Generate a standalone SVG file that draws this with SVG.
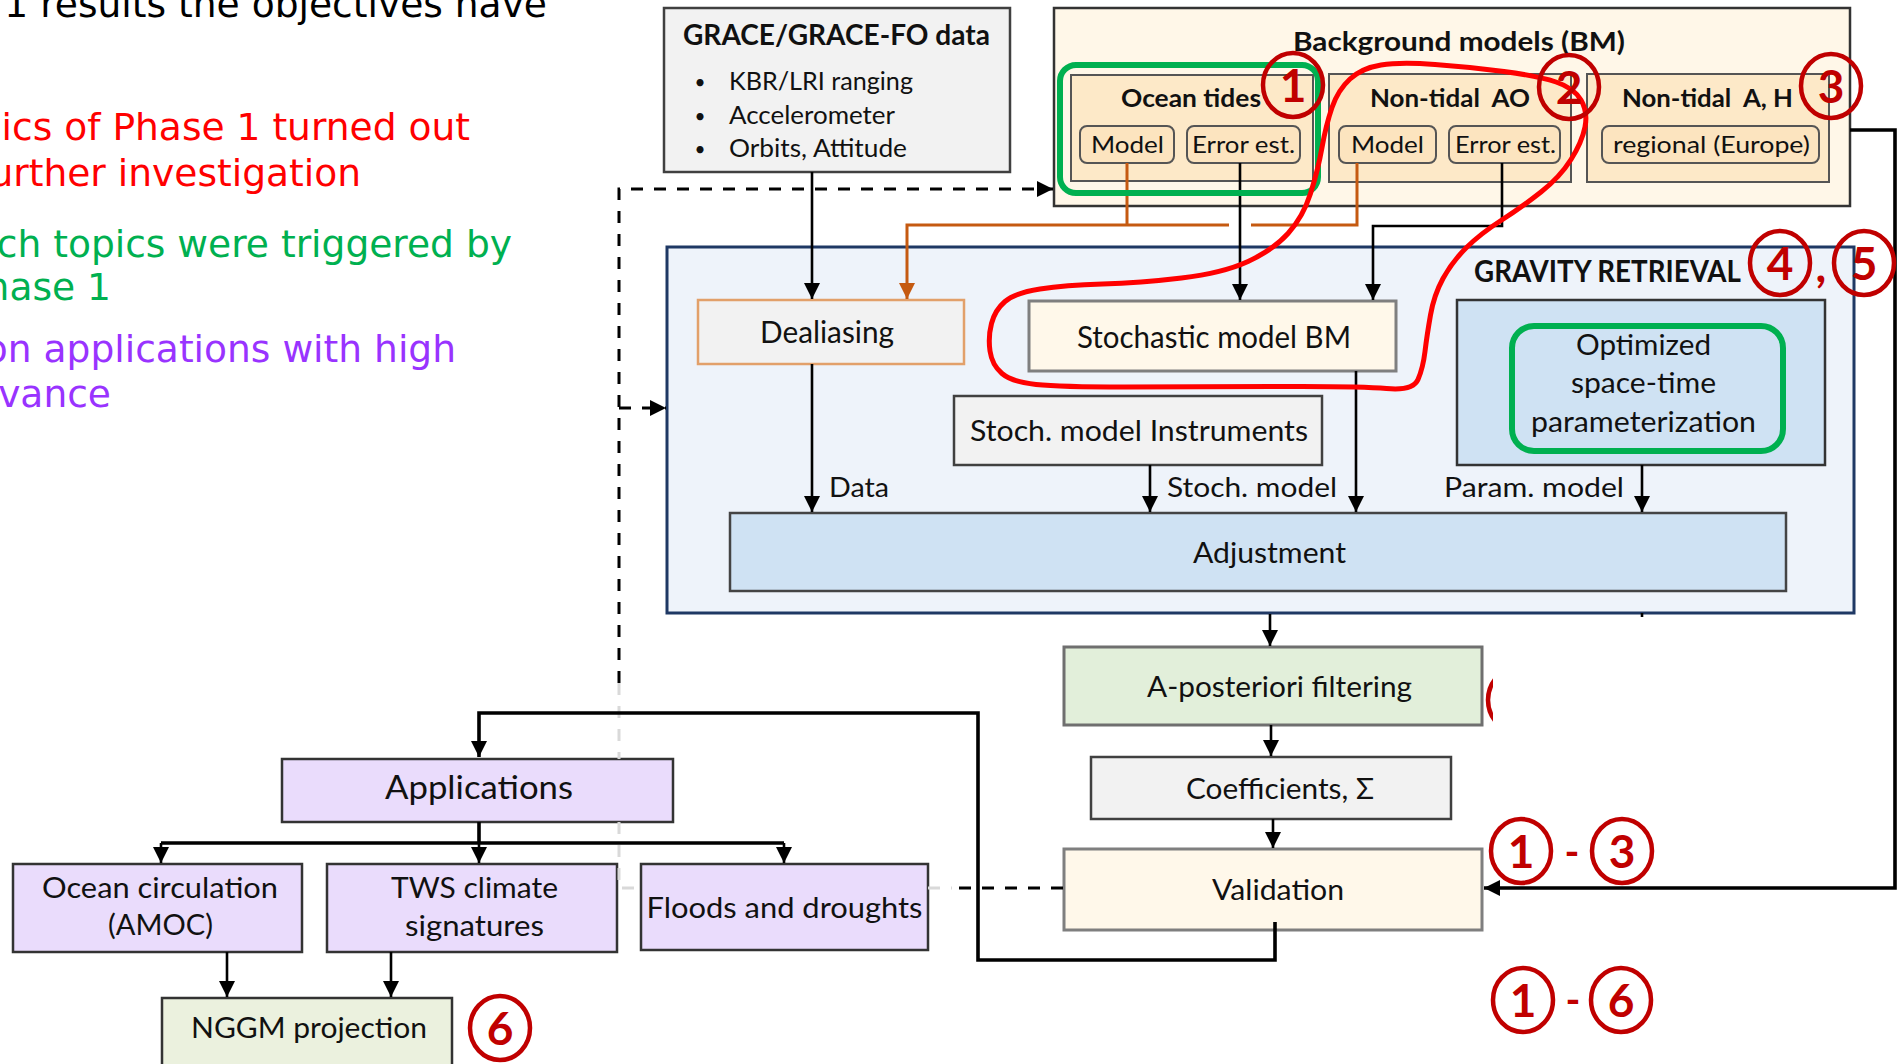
<svg xmlns="http://www.w3.org/2000/svg" width="1901" height="1064" viewBox="0 0 1901 1064">
  <defs>
    <style>
      .note { font-family: "DejaVu Sans", Verdana, sans-serif; font-size: 37.6px; text-anchor: end; }
      .lbl { font-family: Lato, "Liberation Sans", sans-serif; fill: #111; font-size: 28.5px; }
      .mid { text-anchor: middle; }
      .b { font-weight: bold; }
      .bx { stroke-width: 2.5; }
      .line { fill: none; stroke: #000; stroke-width: 2.6; }
      .thick { stroke-width: 3.6; }
      .dash { fill: none; stroke: #000; stroke-width: 3; stroke-dasharray: 12 11; }
      .faded { fill: none; stroke: #d9d9d9; stroke-width: 3; stroke-dasharray: 12 11; }
      .orange { fill: none; stroke: #c55a11; stroke-width: 3; }
      .ring { fill: none; stroke: #c00000; stroke-width: 4.5; }
      .num { font-family: Lato, "Liberation Sans", sans-serif; font-size: 46px; fill: #c00000; text-anchor: middle; font-weight: bold; }
      .hl { fill: none; stroke: #00b050; stroke-width: 6; }
    </style>
    <marker id="ah" viewBox="0 0 10 10" refX="10" refY="5" markerWidth="16" markerHeight="16" markerUnits="userSpaceOnUse" orient="auto">
      <path d="M0,0 L10,5 L0,10 z" fill="#000"/>
    </marker>
    <marker id="ahO" viewBox="0 0 10 10" refX="10" refY="5" markerWidth="16" markerHeight="16" markerUnits="userSpaceOnUse" orient="auto">
      <path d="M0,0 L10,5 L0,10 z" fill="#c55a11"/>
    </marker>
    <clipPath id="sliver">
      <rect x="1482" y="660" width="11" height="80"/>
    </clipPath>
  </defs>

  <rect width="1901" height="1064" fill="#fff"/>

  <!-- slide text on the left, running off the edge -->
  <g id="slide-text">
    <text class="note" x="547" y="17" fill="#000">1 results the objectives have</text>
    <text class="note" x="470" y="140" fill="#ff0000">ics of Phase 1 turned out</text>
    <text class="note" x="361" y="186" fill="#ff0000">urther investigation</text>
    <text class="note" x="512" y="257" fill="#00b050">ch topics were triggered by</text>
    <text class="note" x="111" y="300" fill="#00b050">hase 1</text>
    <text class="note" x="456" y="362" fill="#9933ff">on applications with high</text>
    <text class="note" x="111" y="407" fill="#9933ff">vance</text>
  </g>

  <!-- input data -->
  <g id="grace-data">
    <rect class="bx" x="664" y="8" width="346" height="164" fill="#f2f2f2" stroke="#404040"/>
    <text class="lbl mid b" x="836.5" y="45" textLength="307" lengthAdjust="spacingAndGlyphs">GRACE/GRACE-FO data</text>
    <text class="lbl mid" x="700" y="89" style="font-size:19px">•</text>
    <text class="lbl mid" x="700" y="123" style="font-size:19px">•</text>
    <text class="lbl mid" x="700" y="156" style="font-size:19px">•</text>
    <text class="lbl" x="729" y="90" style="font-size:25px" textLength="184" lengthAdjust="spacingAndGlyphs">KBR/LRI ranging</text>
    <text class="lbl" x="729" y="124" style="font-size:25px" textLength="166" lengthAdjust="spacingAndGlyphs">Accelerometer</text>
    <text class="lbl" x="729" y="157" style="font-size:25px" textLength="178" lengthAdjust="spacingAndGlyphs">Orbits, Attitude</text>
  </g>

  <!-- background models -->
  <g id="background-models">
    <rect class="bx" x="1054" y="8" width="796" height="198" fill="#fff7e8" stroke="#333"/>
    <text class="lbl mid b" x="1459" y="51" style="font-size:26px" textLength="332" lengthAdjust="spacingAndGlyphs">Background models (BM)</text>
  </g>
  <g id="ocean-tides">
    <rect x="1071" y="75" width="242" height="106" fill="#fde9c8" stroke="#555" stroke-width="2"/>
    <text class="lbl mid b" x="1191" y="107" style="font-size:24px" textLength="140" lengthAdjust="spacingAndGlyphs">Ocean tides</text>
    <rect x="1080" y="126" width="94" height="37" rx="7" fill="#fce4bf" stroke="#555" stroke-width="2"/>
    <text class="lbl mid" x="1127.5" y="153" style="font-size:24px" textLength="73" lengthAdjust="spacingAndGlyphs">Model</text>
    <rect x="1187" y="126" width="113" height="37" rx="7" fill="#fce4bf" stroke="#555" stroke-width="2"/>
    <text class="lbl mid" x="1243.5" y="153" style="font-size:24px" textLength="103" lengthAdjust="spacingAndGlyphs">Error est.</text>
  </g>
  <g id="non-tidal-ao">
    <rect x="1329" y="74" width="242" height="108" fill="#fde9c8" stroke="#555" stroke-width="2"/>
    <text class="lbl mid b" x="1450" y="107" xml:space="preserve" style="font-size:24px" textLength="160" lengthAdjust="spacingAndGlyphs">Non-tidal  AO</text>
    <rect x="1339" y="126" width="97" height="37" rx="7" fill="#fce4bf" stroke="#555" stroke-width="2"/>
    <text class="lbl mid" x="1387.5" y="153" style="font-size:24px" textLength="73" lengthAdjust="spacingAndGlyphs">Model</text>
    <rect x="1449" y="126" width="111" height="37" rx="7" fill="#fce4bf" stroke="#555" stroke-width="2"/>
    <text class="lbl mid" x="1505.5" y="153" style="font-size:24px" textLength="101" lengthAdjust="spacingAndGlyphs">Error est.</text>
  </g>
  <g id="non-tidal-ah">
    <rect x="1587" y="74" width="242" height="108" fill="#fde9c8" stroke="#555" stroke-width="2"/>
    <text class="lbl mid b" x="1707.5" y="107" xml:space="preserve" style="font-size:24px" textLength="171" lengthAdjust="spacingAndGlyphs">Non-tidal  A, H</text>
    <rect x="1602" y="126" width="217" height="37" rx="7" fill="#fce4bf" stroke="#555" stroke-width="2"/>
    <text class="lbl mid" x="1711.5" y="153" style="font-size:24px" textLength="197" lengthAdjust="spacingAndGlyphs">regional (Europe)</text>
  </g>

  <!-- gravity retrieval -->
  <g id="gravity-retrieval">
    <rect x="667" y="247" width="1187" height="366" fill="#eef3fa" stroke="#1f3864" stroke-width="3"/>
    <text class="lbl b" x="1474" y="282" style="font-size:30px" textLength="267" lengthAdjust="spacingAndGlyphs">GRAVITY RETRIEVAL</text>
  </g>
  <g id="dealiasing">
    <rect class="bx" x="698" y="300" width="266" height="64" fill="#f2f2f2" stroke="#e2a06a"/>
    <text class="lbl mid" x="827" y="343" style="font-size:30px" textLength="134" lengthAdjust="spacingAndGlyphs">Dealiasing</text>
  </g>
  <g id="stoch-bm">
    <rect x="1029" y="301" width="367" height="70" fill="#fff8ea" stroke="#7f7f7f" stroke-width="3"/>
    <text class="lbl mid" x="1214" y="348" style="font-size:30px" textLength="274" lengthAdjust="spacingAndGlyphs">Stochastic model BM</text>
  </g>
  <g id="stoch-instruments">
    <rect class="bx" x="954" y="396" width="368" height="69" fill="#f2f2f2" stroke="#404040"/>
    <text class="lbl mid" x="1139" y="441" style="font-size:29px" textLength="338" lengthAdjust="spacingAndGlyphs">Stoch. model Instruments</text>
  </g>
  <g id="parameterization">
    <rect class="bx" x="1457" y="300" width="368" height="165" fill="#cfe2f3" stroke="#333"/>
    <text class="lbl mid" x="1643.5" y="355" textLength="135" lengthAdjust="spacingAndGlyphs">Optimized</text>
    <text class="lbl mid" x="1643.5" y="393" textLength="145" lengthAdjust="spacingAndGlyphs">space-time</text>
    <text class="lbl mid" x="1643.5" y="432" textLength="225" lengthAdjust="spacingAndGlyphs">parameterization</text>
  </g>
  <g id="adjustment">
    <rect class="bx" x="730" y="513" width="1056" height="78" fill="#cfe2f3" stroke="#444"/>
    <text class="lbl mid" x="1269.5" y="563" textLength="153" lengthAdjust="spacingAndGlyphs">Adjustment</text>
  </g>

  <!-- post-processing chain -->
  <g id="filtering">
    <rect x="1064" y="647" width="418" height="78" fill="#e2efda" stroke="#6f6f6f" stroke-width="3"/>
    <text class="lbl mid" x="1279.5" y="697" textLength="265" lengthAdjust="spacingAndGlyphs">A-posteriori filtering</text>
  </g>
  <g id="coefficients">
    <rect class="bx" x="1091" y="757" width="360" height="62" fill="#f2f2f2" stroke="#404040"/>
    <text class="lbl mid" x="1280" y="799" textLength="188" lengthAdjust="spacingAndGlyphs">Coefficients, Σ</text>
  </g>
  <g id="validation">
    <rect x="1064" y="849" width="418" height="81" fill="#fff8ea" stroke="#7f7f7f" stroke-width="3"/>
    <text class="lbl mid" x="1278" y="900" textLength="132" lengthAdjust="spacingAndGlyphs">Validation</text>
  </g>

  <!-- applications -->
  <g id="applications">
    <rect class="bx" x="282" y="759" width="391" height="63" fill="#eadcfc" stroke="#333"/>
    <text class="lbl mid" x="479" y="799" style="font-size:32px" textLength="188" lengthAdjust="spacingAndGlyphs">Applications</text>
  </g>
  <g id="ocean-circulation">
    <rect class="bx" x="13" y="864" width="289" height="88" fill="#eadcfc" stroke="#333"/>
    <text class="lbl mid" x="160" y="898" textLength="236" lengthAdjust="spacingAndGlyphs">Ocean circulation</text>
    <text class="lbl mid" x="160.5" y="935" textLength="105" lengthAdjust="spacingAndGlyphs">(AMOC)</text>
  </g>
  <g id="tws">
    <rect class="bx" x="327" y="864" width="290" height="88" fill="#eadcfc" stroke="#333"/>
    <text class="lbl mid" x="474.5" y="898" textLength="167" lengthAdjust="spacingAndGlyphs">TWS climate</text>
    <text class="lbl mid" x="474.5" y="936" textLength="139" lengthAdjust="spacingAndGlyphs">signatures</text>
  </g>
  <g id="floods">
    <rect class="bx" x="641" y="864" width="287" height="86" fill="#eadcfc" stroke="#333"/>
    <text class="lbl mid" x="784.5" y="918" textLength="276" lengthAdjust="spacingAndGlyphs">Floods and droughts</text>
  </g>
  <g id="nggm">
    <rect class="bx" x="162" y="998" width="290" height="72" fill="#ebf1de" stroke="#333"/>
    <text class="lbl mid" x="309" y="1038" textLength="236" lengthAdjust="spacingAndGlyphs">NGGM projection</text>
  </g>

  <!-- connectors -->
  <g id="connectors">
    <path class="line" d="M812,172 V299" marker-end="url(#ah)"/>
    <path class="dash" d="M1063,888 H956"/>
    <path class="faded" d="M619,683 V759 M619,822 V888 H640 M928,888 H952"/>
    <path class="dash" d="M619,683 V189 H1053" marker-end="url(#ah)"/>
    <path class="dash" d="M619,408 H666" marker-end="url(#ah)"/>
    <path class="orange" d="M1229,225 H907 V299" marker-end="url(#ahO)"/>
    <path class="orange" d="M1127,163 V225 M1251,225 H1357 V163"/>
    <path class="line" d="M1240,163 V300" marker-end="url(#ah)"/>
    <path class="line" d="M1502,163 V226 H1373 V300" marker-end="url(#ah)"/>
    <path class="line thick" d="M1850,130 H1895 V888 H1484" marker-end="url(#ah)"/>
    <path class="line" d="M812,364 V512" marker-end="url(#ah)"/>
    <path class="line" d="M1150,465 V512" marker-end="url(#ah)"/>
    <path class="line" d="M1356,371 V512" marker-end="url(#ah)"/>
    <path class="line" d="M1642,465 V512" marker-end="url(#ah)"/>
    <path class="line" d="M1642,613 V617"/>
    <path class="line" d="M1270,614 V646" marker-end="url(#ah)"/>
    <path class="line" d="M1271,725 V756" marker-end="url(#ah)"/>
    <path class="line" d="M1273,819 V848" marker-end="url(#ah)"/>
    <path class="line thick" d="M1275,922 V960 H978 V713 H479 V757" marker-end="url(#ah)"/>
    <path class="line thick" d="M479,822 V843 M161,843 H784"/>
    <path class="line" d="M161,843 V863" marker-end="url(#ah)"/>
    <path class="line" d="M479,843 V863" marker-end="url(#ah)"/>
    <path class="line" d="M784,843 V863" marker-end="url(#ah)"/>
    <path class="line" d="M227,952 V997" marker-end="url(#ah)"/>
    <path class="line" d="M391,952 V997" marker-end="url(#ah)"/>
    <text class="lbl" x="829" y="497" style="font-size:26px" textLength="60" lengthAdjust="spacingAndGlyphs">Data</text>
    <text class="lbl" x="1167" y="497" style="font-size:26px" textLength="170" lengthAdjust="spacingAndGlyphs">Stoch. model</text>
    <text class="lbl" x="1444" y="497" style="font-size:26px" textLength="180" lengthAdjust="spacingAndGlyphs">Param. model</text>
  </g>

  <!-- highlights and work-package numbers -->
  <g id="highlights">
    <rect class="hl" x="1060" y="65" width="258" height="128" rx="16"/>
    <rect class="hl" x="1512" y="326" width="271" height="125" rx="22"/>
    <path fill="none" stroke="#ff0000" stroke-width="5" stroke-linejoin="round" d="M1350,79 Q1362,68 1381,65 Q1400,62 1435,64.5 Q1470,67 1504,71.5 Q1538,76 1556,82 Q1574,88 1581,100 Q1588,112 1585,127 Q1582,142 1571,159.5 Q1560,177 1541,192 Q1522,207 1501,220.5 Q1480,234 1466,248 Q1452,262 1443,278.5 Q1434,295 1430.5,315 Q1427,335 1425,351.5 Q1423,368 1418,379.5 Q1413,391 1386.5,388.5 Q1360,386 1275,386.5 Q1190,387 1125,387 Q1060,387 1036,384.5 Q1012,382 1002,373.5 Q992,365 990,351 Q988,337 991.5,323.5 Q995,310 1005,301.5 Q1015,293 1040,289 Q1065,285 1102.5,284 Q1140,283 1181.5,278 Q1223,273 1248,261.5 Q1273,250 1288,233.5 Q1303,217 1310.5,193.5 Q1318,170 1322,147.5 Q1326,125 1332,107.5 Q1338,90 1350,79 Z"/>
  </g>
  <g id="wp-numbers">
    <ellipse class="ring" cx="1293" cy="85" rx="30" ry="32"/>
    <text class="num" x="1293" y="102">1</text>
    <ellipse class="ring" cx="1569" cy="87" rx="30" ry="32"/>
    <text class="num" x="1569" y="104">2</text>
    <ellipse class="ring" cx="1831" cy="86" rx="30" ry="32"/>
    <text class="num" x="1831" y="103">3</text>
    <ellipse class="ring" cx="1780" cy="263" rx="30" ry="32"/>
    <text class="num" x="1780" y="280">4</text>
    <text class="num" x="1821" y="282">,</text>
    <ellipse class="ring" cx="1864" cy="263" rx="30" ry="32"/>
    <text class="num" x="1864" y="280">5</text>
    <ellipse class="ring" cx="1518" cy="700" rx="30" ry="32" clip-path="url(#sliver)"/>
    <ellipse class="ring" cx="1521" cy="851" rx="30" ry="32"/>
    <text class="num" x="1521" y="868">1</text>
    <text class="num" x="1572" y="866" style="font-size:40px">-</text>
    <ellipse class="ring" cx="1622" cy="851" rx="30" ry="32"/>
    <text class="num" x="1622" y="868">3</text>
    <ellipse class="ring" cx="1523" cy="1000" rx="30" ry="32"/>
    <text class="num" x="1523" y="1017">1</text>
    <text class="num" x="1573" y="1014" style="font-size:40px">-</text>
    <ellipse class="ring" cx="1621" cy="1000" rx="30" ry="32"/>
    <text class="num" x="1621" y="1017">6</text>
    <ellipse class="ring" cx="500" cy="1028" rx="30" ry="32"/>
    <text class="num" x="500" y="1045">6</text>
  </g>
</svg>
